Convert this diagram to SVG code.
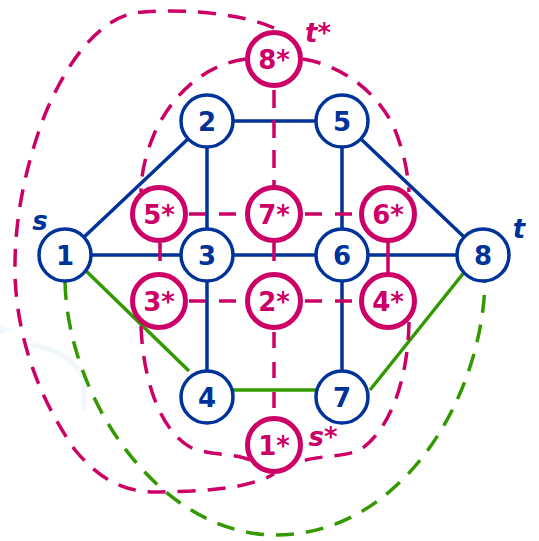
<svg xmlns="http://www.w3.org/2000/svg" width="539" height="541" viewBox="0 0 539 541">
<style>
.p{stroke:#003399;stroke-width:3.5;fill:none}
.g{stroke:#339900;stroke-width:3.5;fill:none}
.gd{stroke:#339900;stroke-width:3.5;fill:none;stroke-dasharray:18 12}
.d{stroke:#CC0066;stroke-width:3.5;fill:none;stroke-dasharray:18 12}
.ds{stroke:#CC0066;stroke-width:3.5;fill:none}
.pn circle{fill:#fff;stroke:#003399;stroke-width:3.5}
.dn circle{fill:#fff;stroke:#CC0066;stroke-width:5}
.pn text{fill:#003399}
.dn text{fill:#CC0066}
text{font-family:"DejaVu Sans","Liberation Sans",sans-serif;font-weight:bold;font-size:26px;text-anchor:middle}
.lb{font-style:italic}
</style>
<path d="M32,345 Q70,352 84,378 L84,410" stroke="#f0f7fd" stroke-width="5" fill="none"/>
<path d="M0,325 L13,330 L0,334 Z" fill="#f0f7fd"/>
<g id="connectors">
<line class="p" x1="65" y1="255" x2="207" y2="121"/>
<line class="p" x1="65" y1="255" x2="207" y2="255"/>
<line class="p" x1="207" y1="121" x2="342" y2="121"/>
<line class="p" x1="207" y1="121" x2="207" y2="397"/>
<line class="p" x1="207" y1="255" x2="342" y2="255"/>
<line class="p" x1="342" y1="121" x2="342" y2="397"/>
<line class="p" x1="342" y1="121" x2="483" y2="255"/>
<line class="p" x1="342" y1="255" x2="483" y2="255"/>
<line class="g" x1="83" y1="268" x2="189" y2="371"/>
<line class="g" x1="207" y1="390" x2="342" y2="390"/>
<line class="g" x1="370" y1="390" x2="466" y2="270"/>
<path class="gd" d="M65,282 C68,400 160,535 276,535 C400,535 482,400 485,282"/>
<path class="d" d="M274,28 C240,12 170,8 135,13 C95,20 62,70 42,122 C25,170 14,220 15,275 C17,340 40,400 75,450 C100,480 125,493 160,492 C200,491 245,490 274,474"/>
<path class="d" d="M246,59 C205,64 172,95 155,132 C145,155 141,175 141,192"/>
<path class="d" d="M303,59 C345,66 380,95 395,130 C405,155 408,175 409,192"/>
<path class="d" d="M141,326 C143,380 160,430 190,447 C210,456 235,453 250,460"/>
<path class="d" d="M409,322 C408,380 390,430 360,450 C340,458 318,455 300,462"/>
<line class="d" x1="274" y1="90" x2="274" y2="214"/>
<line class="d" x1="274" y1="243" x2="274" y2="301"/>
<line class="d" x1="160" y1="243" x2="160" y2="301"/>
<line class="ds" x1="388" y1="214" x2="388" y2="301"/>
<line class="d" style="stroke-dasharray:16 14" x1="274" y1="332" x2="274" y2="445"/>
<line class="d" style="stroke-dasharray:17 13" x1="189" y1="214" x2="274" y2="214"/>
<line class="d" style="stroke-dasharray:17 13" x1="305" y1="214" x2="388" y2="214"/>
<line class="d" style="stroke-dasharray:17 13" x1="189" y1="301" x2="274" y2="301"/>
<line class="d" style="stroke-dasharray:17 13" x1="305" y1="301" x2="388" y2="301"/>
</g>
<g id="n1" class="pn"><circle cx="65" cy="255" r="26"/><text x="65" y="265">1</text></g>
<g id="n2" class="pn"><circle cx="207" cy="121" r="26"/><text x="207" y="131">2</text></g>
<g id="n3" class="pn"><circle cx="207" cy="255" r="26"/><text x="207" y="265">3</text></g>
<g id="n4" class="pn"><circle cx="207" cy="397" r="26"/><text x="207" y="407">4</text></g>
<g id="n5" class="pn"><circle cx="342" cy="121" r="26"/><text x="342" y="131">5</text></g>
<g id="n6" class="pn"><circle cx="342" cy="255" r="26"/><text x="342" y="265">6</text></g>
<g id="n7" class="pn"><circle cx="342" cy="397" r="26"/><text x="342" y="407">7</text></g>
<g id="n8" class="pn"><circle cx="483" cy="255" r="26"/><text x="483" y="265">8</text></g>
<g id="d8" class="dn"><circle cx="274" cy="59" r="26.5"/><text x="274" y="69">8*</text></g>
<g id="d5" class="dn"><circle cx="159" cy="214" r="26.5"/><text x="159" y="224">5*</text></g>
<g id="d7" class="dn"><circle cx="274" cy="214" r="26.5"/><text x="274" y="224">7*</text></g>
<g id="d6" class="dn"><circle cx="388" cy="214" r="26.5"/><text x="388" y="224">6*</text></g>
<g id="d3" class="dn"><circle cx="159" cy="301" r="26.5"/><text x="159" y="311">3*</text></g>
<g id="d2" class="dn"><circle cx="274" cy="301" r="26.5"/><text x="274" y="311">2*</text></g>
<g id="d4" class="dn"><circle cx="388" cy="301" r="26.5"/><text x="388" y="311">4*</text></g>
<g id="d1" class="dn"><circle cx="274" cy="445" r="26.5"/><text x="274" y="455">1*</text></g>
<g id="labels">
<text class="lb" x="40" y="230" fill="#003399">s</text>
<text class="lb" x="519" y="238" fill="#003399">t</text>
<text class="lb" x="318" y="42" fill="#CC0066">t*</text>
<text class="lb" x="323" y="446" fill="#CC0066">s*</text>
</g>
</svg>
